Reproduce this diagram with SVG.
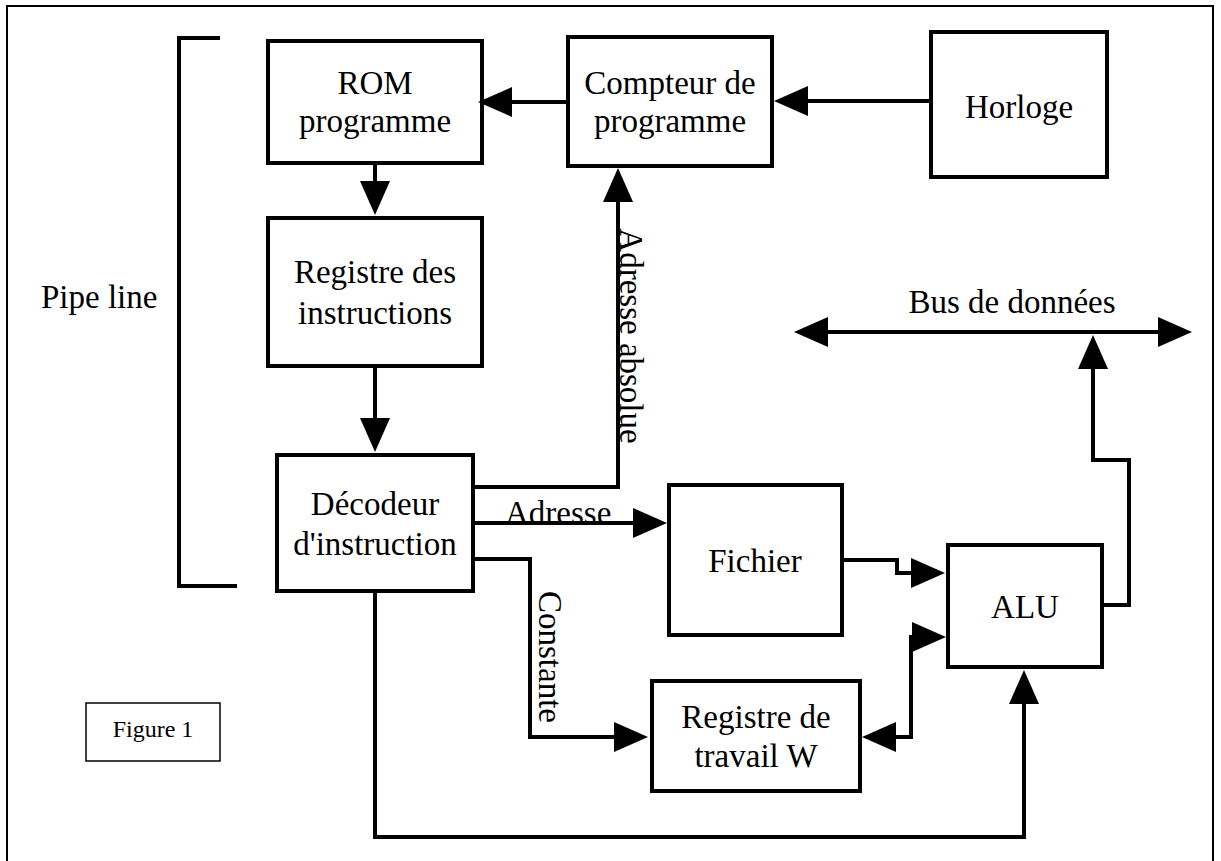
<svg xmlns="http://www.w3.org/2000/svg" width="1221" height="861" viewBox="0 0 1221 861">
<style>
  .box { fill: #ffffff; stroke: #000000; stroke-width: 4; }
  .thin { fill: #ffffff; stroke: #000000; stroke-width: 1.5; }
  .wire { fill: none; stroke: #000000; stroke-width: 4; stroke-linejoin: miter; }
  .arr { marker-end: url(#head); }
  .lbl { font-family: "Liberation Serif", "Times New Roman", serif; font-size: 33px; fill: #000000; }
  .mid { text-anchor: middle; }
</style>
<defs>
  <marker id="head" markerUnits="userSpaceOnUse" markerWidth="34" markerHeight="30" refX="0" refY="15" orient="auto-start-reverse" overflow="visible">
    <path d="M0,0 L34,15 L0,30 Z" fill="#000000"/>
  </marker>
</defs>
<rect x="0" y="0" width="1221" height="861" fill="#ffffff"/>
<rect x="7" y="6" width="1206" height="900" fill="none" stroke="#000000" stroke-width="2"/>

<g id="pipeline">
  <path class="wire" d="M220,38 H179 V586 H237"/>
  <text class="lbl" x="41" y="308">Pipe line</text>
</g>

<g id="rom">
  <rect class="box" x="268" y="41" width="214" height="122"/>
  <text class="lbl mid" x="375" y="94">ROM</text>
  <text class="lbl mid" x="375" y="132">programme</text>
</g>

<g id="compteur">
  <rect class="box" x="568" y="37" width="204" height="129"/>
  <text class="lbl mid" x="670" y="94">Compteur de</text>
  <text class="lbl mid" x="670" y="132">programme</text>
</g>

<g id="horloge">
  <rect class="box" x="931" y="32" width="176" height="145"/>
  <text class="lbl mid" x="1019" y="118">Horloge</text>
</g>

<g id="registre-instructions">
  <rect class="box" x="268" y="218" width="214" height="148"/>
  <text class="lbl mid" x="375" y="283">Registre des</text>
  <text class="lbl mid" x="375" y="324">instructions</text>
</g>

<g id="decodeur">
  <rect class="box" x="277" y="455" width="196" height="136"/>
  <text class="lbl mid" x="375" y="515">Décodeur</text>
  <text class="lbl mid" x="375" y="555">d'instruction</text>
</g>

<g id="fichier">
  <rect class="box" x="669" y="485" width="173" height="150"/>
  <text class="lbl mid" x="755" y="572">Fichier</text>
</g>

<g id="alu">
  <rect class="box" x="948" y="545" width="154" height="122"/>
  <text class="lbl mid" x="1025" y="618">ALU</text>
</g>

<g id="registre-w">
  <rect class="box" x="652" y="681" width="208" height="110"/>
  <text class="lbl mid" x="756" y="728">Registre de</text>
  <text class="lbl mid" x="756" y="767">travail W</text>
</g>

<g id="figure-label">
  <rect class="thin" x="86" y="703" width="134" height="58"/>
  <text class="lbl mid" x="153" y="737" style="font-size:24px">Figure 1</text>
</g>

<g id="bus-label">
  <text class="lbl mid" x="1012" y="313">Bus de données</text>
</g>

<g id="connectors">
  <path class="wire arr" d="M933,101 H808"/>
  <path class="wire arr" d="M568,102 H512"/>
  <path class="wire arr" d="M375,163 V181"/>
  <path class="wire arr" d="M375,366 V418"/>
  <path class="wire arr" d="M473,487 H618 V202"/>
  <text class="lbl mid" transform="translate(620,336) rotate(90)">Adresse absolue</text>
  <text class="lbl" x="505" y="524">Adresse</text>
  <path class="wire arr" d="M473,523 H633"/>
  <path class="wire arr" d="M473,559 H530 V737 H614"/>
  <text class="lbl mid" transform="translate(539,657) rotate(90)">Constante</text>
  <path class="wire arr" d="M842,560 H897 V573 H911"/>
  <path class="wire" d="M896,737 H911 V637 H912" marker-start="url(#head)" marker-end="url(#head)"/>
  <path class="wire arr" d="M1102,605 H1129 V460 H1093 V369"/>
  <path class="wire" d="M828,332 H1158" marker-start="url(#head)" marker-end="url(#head)"/>
  <path class="wire arr" d="M375,591 V837 H1024 V704"/>
</g>
</svg>
